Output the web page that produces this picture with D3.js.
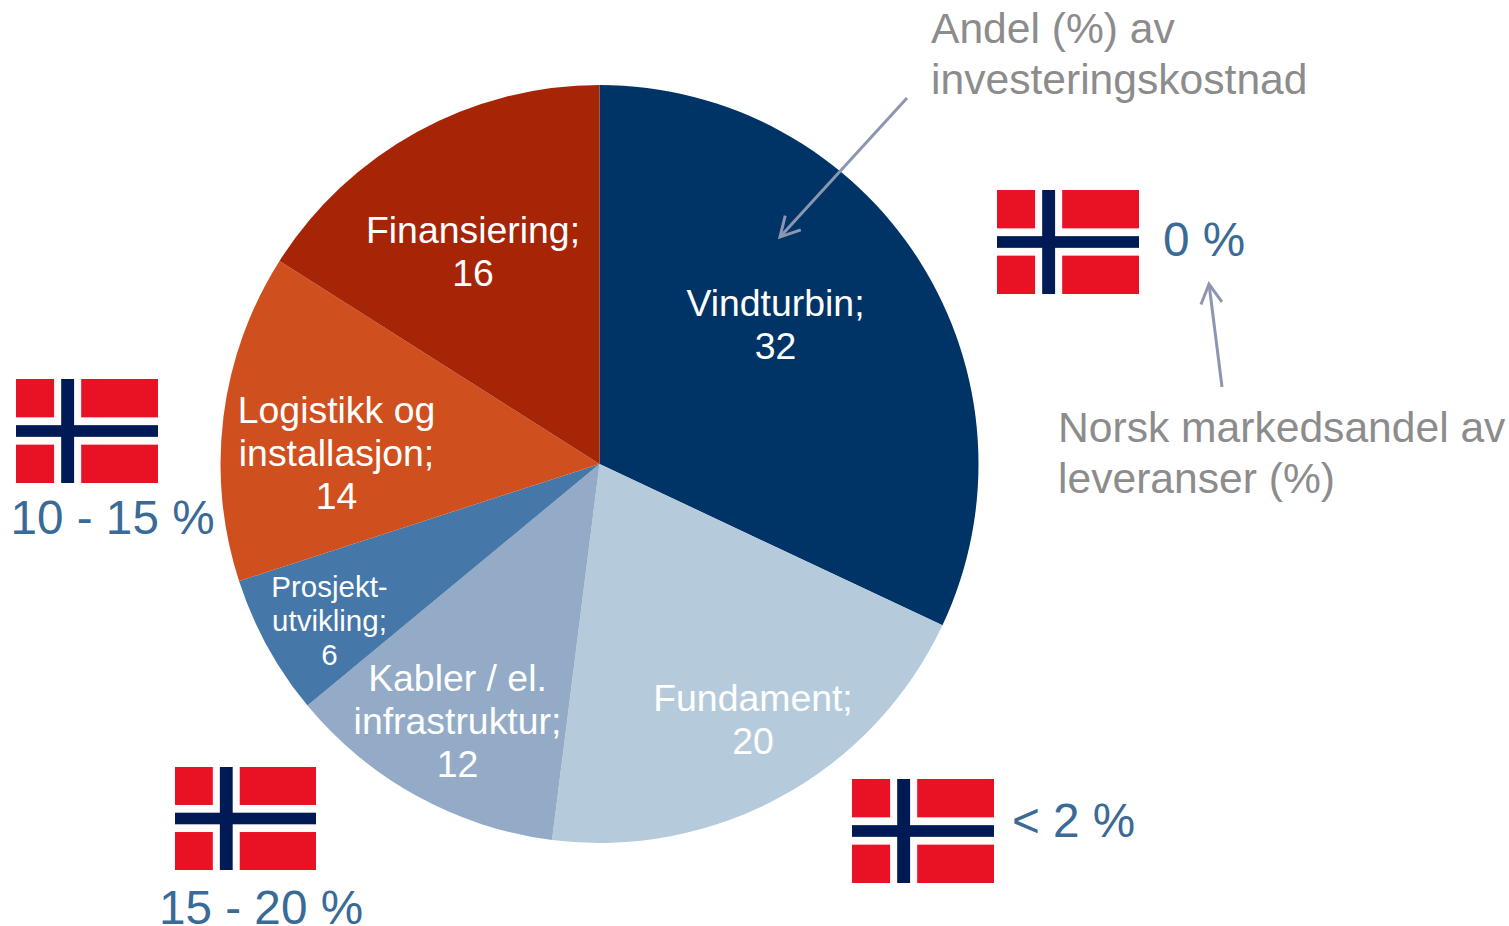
<!DOCTYPE html>
<html>
<head>
<meta charset="utf-8">
<script src="https://cdn.jsdelivr.net/npm/d3@7"></script>
<style>
  html, body { margin: 0; padding: 0; background: #fff; }
  svg { display: block; }
  text { font-family: "Liberation Sans", Arial, sans-serif; }
</style>
</head>
<body>
<svg class="main" width="1509" height="926"></svg>
<script>
// data
const categories = ["Vindturbin", "Fundament", "Kabler / el. infrastruktur", "Prosjektutvikling", "Logistikk og installasjon", "Finansiering"];
const values = [32, 20, 12, 6, 14, 16];
const sliceColors = ["#003366", "#b5cbdc", "#93abc7", "#4577a8", "#cf501e", "#a72507"];
const labelLines = [
    ["Vindturbin;", "32"],
    ["Fundament;", "20"],
    ["Kabler / el.", "infrastruktur;", "12"],
    ["Prosjekt-", "utvikling;", "6"],
    ["Logistikk og", "installasjon;", "14"],
    ["Finansiering;", "16"]
];
const shareLabels = ["0 %", "< 2 %", "15 - 20 %", "10 - 15 %"];
const noteShare = ["Andel (%) av", "investeringskostnad"];
const noteMarket = ["Norsk markedsandel av", "leveranser (%)"];

// layout
const cx = 599.5, cy = 464, radius = 379;
const labelPos = [
    {x: 775.5, y: 316, size: 37.4, lh: 43},
    {x: 753, y: 711, size: 37.4, lh: 43},
    {x: 457.5, y: 691, size: 37.4, lh: 43},
    {x: 329.5, y: 597, size: 29.5, lh: 34},
    {x: 336.5, y: 423, size: 37.4, lh: 43},
    {x: 473, y: 243, size: 37.4, lh: 43}
];
const flagPos = [
    {x: 997, y: 190, w: 142, h: 104},
    {x: 852, y: 779, w: 142, h: 104},
    {x: 175, y: 767, w: 141, h: 103},
    {x: 16, y: 379, w: 142, h: 104}
];
const sharePos = [
    {x: 1163, y: 256, anchor: "start"},
    {x: 1012, y: 837, anchor: "start"},
    {x: 261, y: 924, anchor: "middle"},
    {x: 112.5, y: 534, anchor: "middle"}
];

const svg = d3.select("svg.main");

// kakediagram
const pie = d3.pie().sort(null).value(d => d);
const arc = d3.arc().innerRadius(0).outerRadius(radius);
svg.append("g")
    .attr("transform", `translate(${cx},${cy})`)
    .selectAll("path")
    .data(pie(values))
    .join("path")
    .attr("d", arc)
    .attr("fill", (d, i) => sliceColors[i])
    .append("title")
    .text((d, i) => categories[i] + ": " + d.data);

// etiketter
labelLines.forEach((lines, i) => {
    const p = labelPos[i];
    const t = svg.append("text")
        .attr("text-anchor", "middle")
        .attr("font-size", p.size)
        .attr("fill", "#fff");
    lines.forEach((s, k) => {
        t.append("tspan").attr("x", p.x).attr("y", p.y + k * p.lh).text(s);
    });
});

// flagg, korset ligger litt til venstre
const drawFlag = (f) => {
    const x = d3.scaleLinear().domain([0, 22]).range([f.x, f.x + f.w]);
    const y = d3.scaleLinear().domain([0, 16]).range([f.y, f.y + f.h]);
    const g = svg.append("g");
    const rect = (x0, y0, x1, y1, col) => g.append("rect")
        .attr("x", x(x0)).attr("y", y(y0))
        .attr("width", x(x1) - x(x0)).attr("height", y(y1) - y(y0))
        .attr("fill", col);
    rect(0, 0, 22, 16, "#e81224");
    rect(5.9, 0, 10.1, 16, "#fdfbfb");
    rect(0, 5.9, 22, 10.1, "#fdfbfb");
    rect(7, 0, 9, 16, "#001a55");
    rect(0, 7.1, 22, 8.9, "#001a55");
};
flagPos.forEach(drawFlag);

// markedsandeler
shareLabels.forEach((s, i) => {
    svg.append("text")
        .attr("x", sharePos[i].x).attr("y", sharePos[i].y)
        .attr("text-anchor", sharePos[i].anchor)
        .attr("font-size", 47.7)
        .attr("fill", "#3a6a96")
        .text(s);
});

// forklaringer
const drawNote = (lines, x, y) => {
    lines.forEach((s, k) => {
        svg.append("text")
            .attr("x", x).attr("y", y + k * 51)
            .attr("font-size", 42.6)
            .attr("fill", "#8c8c8c")
            .text(s);
    });
};
drawNote(noteShare, 931, 43);
drawNote(noteMarket, 1058, 442);

// piler
const drawArrow = (x1, y1, x2, y2) => {
    const a = Math.atan2(y2 - y1, x2 - x1);
    const len = 22, sp = 0.5;
    const line = d3.line();
    const pts = [
        [x2 - len * Math.cos(a - sp), y2 - len * Math.sin(a - sp)],
        [x2, y2],
        [x2 - len * Math.cos(a + sp), y2 - len * Math.sin(a + sp)]
    ];
    const g = svg.append("g").attr("fill", "none").attr("stroke", "#8c96b0").attr("stroke-width", 3);
    g.append("path").attr("d", line([[x1, y1], [x2, y2]]));
    g.append("path").attr("d", line(pts));
};
drawArrow(907, 98, 780, 237);
drawArrow(1222, 387, 1209, 284);
</script>
</body>
</html>
